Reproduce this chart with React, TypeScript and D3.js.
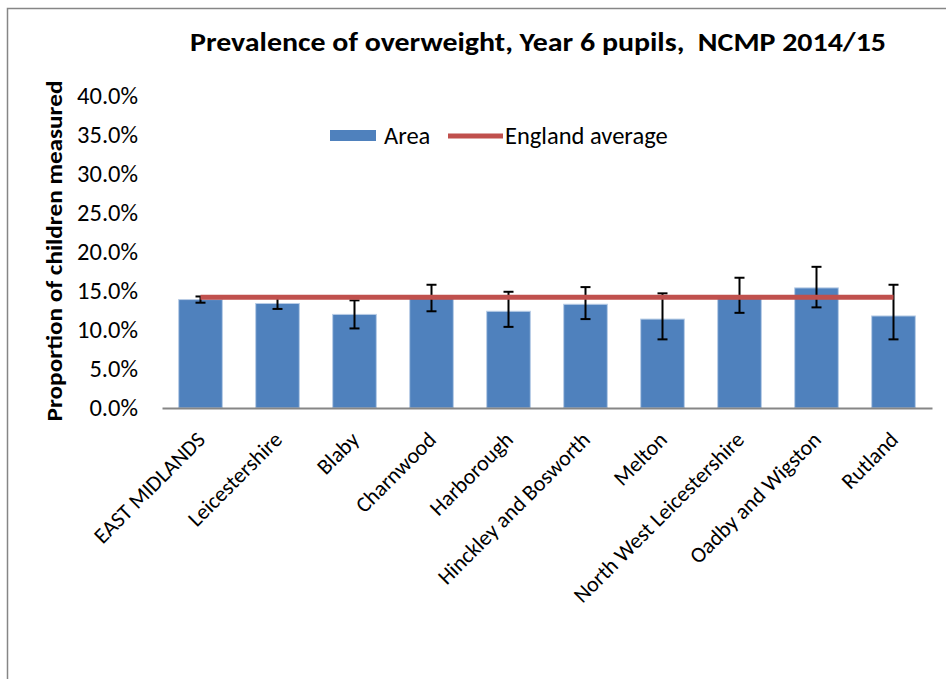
import React, { useRef, useEffect } from "react";
import * as d3 from "d3";

const categories = [
  "EAST MIDLANDS",
  "Leicestershire",
  "Blaby",
  "Charnwood",
  "Harborough",
  "Hinckley and Bosworth",
  "Melton",
  "North West Leicestershire",
  "Oadby and Wigston",
  "Rutland",
];
const areaValues = [13.9, 13.4, 12.0, 14.1, 12.4, 13.3, 11.4, 14.2, 15.4, 11.8];
const lowerCI = [13.5, 12.7, 10.2, 12.4, 10.4, 11.4, 8.8, 12.2, 12.9, 8.8];
const upperCI = [14.3, 14.1, 13.8, 15.8, 14.9, 15.5, 14.7, 16.7, 18.1, 15.8];
const englandAverage = 14.2;
const yTicks = [0, 5, 10, 15, 20, 25, 30, 35, 40];

const FONT = "Carlito, Calibri, Lato, sans-serif";

const App = () => {
  const svgRef = useRef<SVGSVGElement>(null);
  const width = 946;
  const height = 679;

  useEffect(() => {
    const svg = d3.select(svgRef.current);
    svg.selectAll("*").remove();
    const margin = { top: 96, right: 14, bottom: 271, left: 162 };

    const x = d3
      .scaleBand()
      .domain(categories)
      .range([margin.left, width - margin.right])
      .paddingInner(0.433)
      .paddingOuter(0.2165);

    const y = d3
      .scaleLinear()
      .domain([0, 40])
      .range([height - margin.bottom, margin.top]);

    // outer frame of the chart area
    svg
      .append("rect")
      .attr("x", 7.5)
      .attr("y", 8.5)
      .attr("width", 960)
      .attr("height", 700)
      .attr("fill", "#fff")
      .attr("stroke", "#868686")
      .attr("stroke-width", 1.5);

    // title
    svg
      .append("text")
      .attr("x", 538)
      .attr("y", 51)
      .attr("text-anchor", "middle")
      .attr("font-family", FONT)
      .attr("font-weight", "bold")
      .attr("font-size", 26)
      .attr("textLength", 696)
      .attr("lengthAdjust", "spacingAndGlyphs")
      .style("white-space", "pre")
      .text("Prevalence of overweight, Year 6 pupils,  NCMP 2014/15");

    // y axis labels
    svg
      .append("g")
      .attr("transform", `translate(${margin.left},0)`)
      .call(
        d3
          .axisLeft(y)
          .tickValues(yTicks)
          .tickSize(0)
          .tickPadding(24)
          .tickFormat((d) => `${(+d).toFixed(1)}%`)
      )
      .call((g) => g.select(".domain").remove())
      .call((g) =>
        g
          .selectAll("text")
          .attr("font-family", FONT)
          .attr("font-size", 24.5)
          .attr("fill", "#000")
      );

    // y axis title
    svg
      .append("text")
      .attr("transform", `translate(62,${251}) rotate(-90)`)
      .attr("text-anchor", "middle")
      .attr("font-family", FONT)
      .attr("font-weight", "bold")
      .attr("font-size", 23)
      .attr("textLength", 341)
      .attr("lengthAdjust", "spacingAndGlyphs")
      .text("Proportion of children measured");

    // bars
    svg
      .append("g")
      .selectAll("rect")
      .data(categories)
      .join("rect")
      .attr("x", (d) => x(d)!)
      .attr("width", x.bandwidth())
      .attr("y", (d, i) => y(areaValues[i]))
      .attr("height", (d, i) => y(0) - y(areaValues[i]))
      .attr("fill", "#4F81BD")
      .attr("stroke", "#b9cde6")
      .attr("stroke-width", 1);

    // x axis line
    svg
      .append("g")
      .attr("transform", `translate(0,${y(0)})`)
      .call(d3.axisBottom(x).tickSize(0).tickFormat(() => ""))
      .call((g) =>
        g.select(".domain").attr("stroke", "#868686").attr("stroke-width", 2)
      );

    // error bars
    const err = svg
      .append("g")
      .attr("stroke", "#000")
      .attr("stroke-width", 2)
      .selectAll("g")
      .data(categories)
      .join("g")
      .attr("transform", (d) => `translate(${x(d)! + x.bandwidth() / 2},0)`);
    err
      .append("line")
      .attr("y1", (d, i) => y(lowerCI[i]))
      .attr("y2", (d, i) => y(upperCI[i]));
    err
      .append("line")
      .attr("x1", -5)
      .attr("x2", 5)
      .attr("y1", (d, i) => y(lowerCI[i]))
      .attr("y2", (d, i) => y(lowerCI[i]));
    err
      .append("line")
      .attr("x1", -5)
      .attr("x2", 5)
      .attr("y1", (d, i) => y(upperCI[i]))
      .attr("y2", (d, i) => y(upperCI[i]));

    // England average line
    const line = d3
      .line<string>()
      .x((d) => x(d)! + x.bandwidth() / 2)
      .y(() => y(englandAverage));
    svg
      .append("path")
      .datum(categories)
      .attr("fill", "none")
      .attr("stroke", "#C0504D")
      .attr("stroke-width", 5)
      .attr("d", line);

    // x labels
    svg
      .append("g")
      .selectAll("text")
      .data(categories)
      .join("text")
      .attr(
        "transform",
        (d) => `translate(${x(d)! + x.bandwidth() / 2 + 6},441) rotate(-45)`
      )
      .attr("text-anchor", "end")
      .attr("font-family", FONT)
      .attr("font-size", 22)
      .text((d) => d);

    // legend
    const legend = svg.append("g").attr("font-family", FONT).attr("font-size", 24.5);
    legend
      .append("rect")
      .attr("x", 330)
      .attr("y", 130)
      .attr("width", 46)
      .attr("height", 11)
      .attr("fill", "#4F81BD");
    legend.append("text").attr("x", 384).attr("y", 144).text("Area");
    legend
      .append("line")
      .attr("x1", 448)
      .attr("x2", 503)
      .attr("y1", 136)
      .attr("y2", 136)
      .attr("stroke", "#C0504D")
      .attr("stroke-width", 5);
    legend.append("text").attr("x", 505).attr("y", 144).text("England average");
  }, []);

  return (
    <div style={{ position: "absolute", left: 0, top: 0 }}>
      <svg ref={svgRef} width={width} height={height} style={{ display: "block" }}></svg>
    </div>
  );
};

export default App;
